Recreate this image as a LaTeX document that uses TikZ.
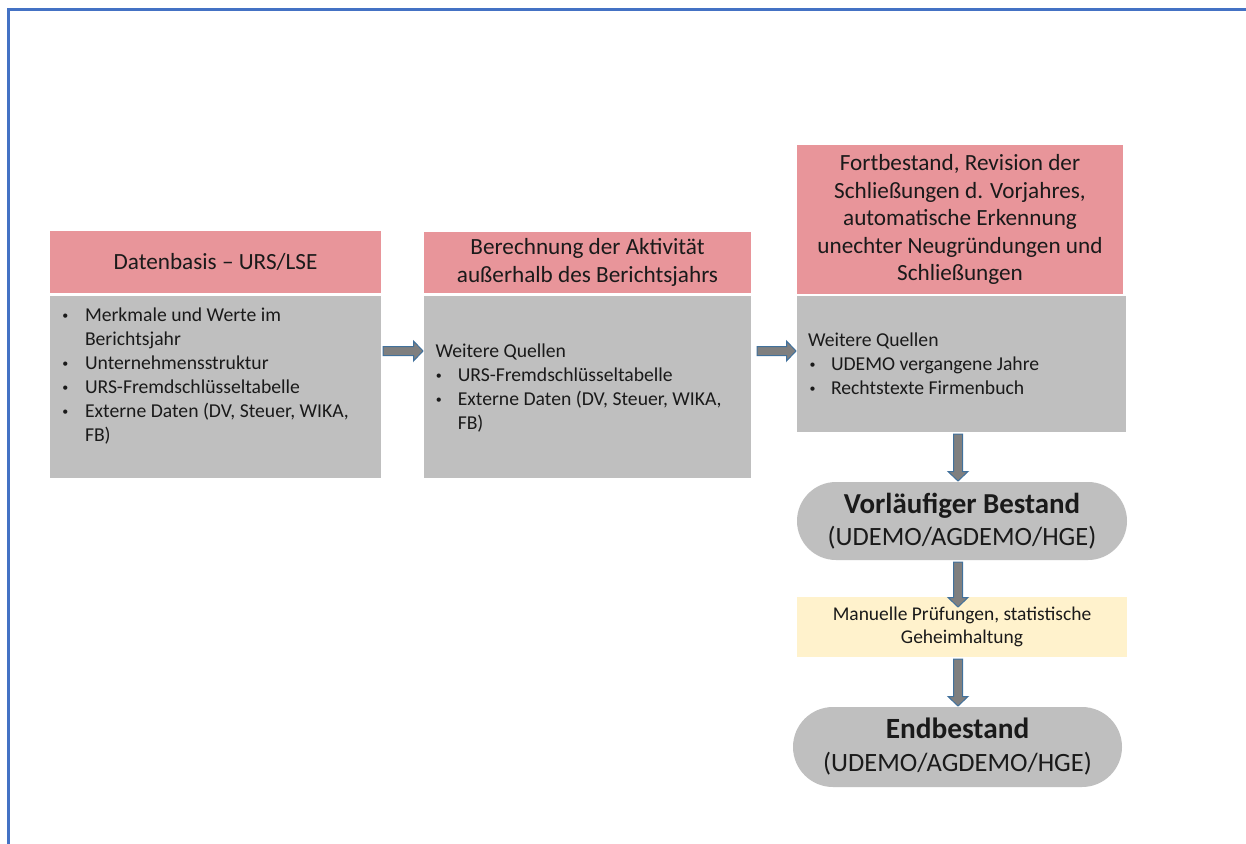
\documentclass[tikz,border=0pt]{standalone}
\usepackage{fontspec}
\setmainfont{Carlito}
\usetikzlibrary{calc}

\definecolor{hdrpink}{HTML}{E8959A}
\definecolor{bodygray}{HTML}{BFBFBF}
\definecolor{notebg}{HTML}{FFF2CC}
\definecolor{framebl}{HTML}{4472C4}
\definecolor{arrfill}{HTML}{7F7F7F}
\definecolor{arrline}{HTML}{41719C}
\definecolor{ink}{HTML}{1A1A1A}

% small bullet with given indent of the dot and remaining hanging width
\newcommand{\bul}[2]{\hspace*{#1}\makebox[0pt]{\raisebox{1.2pt}{\fontsize{9}{9}\selectfont\textbullet}}\hspace*{#2}}

% horizontal block arrow from #1 to #2 (pointing right)
\newcommand{\hblockarrow}[2]{%
  \filldraw[blockarrow] ($(#1)+(0,-4.5)$) -- ($(#2)+(-9.5,-4.5)$) -- ($(#2)+(-9.5,-10)$)
    -- (#2) -- ($(#2)+(-9.5,10)$) -- ($(#2)+(-9.5,4.5)$) -- ($(#1)+(0,4.5)$) -- cycle;}
% vertical block arrow from #1 to #2 (pointing down)
\newcommand{\vblockarrow}[2]{%
  \filldraw[blockarrow] ($(#1)+(-4.5,0)$) -- ($(#2)+(-4.5,-9.5)$) -- ($(#2)+(-10,-9.5)$)
    -- (#2) -- ($(#2)+(10,-9.5)$) -- ($(#2)+(4.5,-9.5)$) -- ($(#1)+(4.5,0)$) -- cycle;}

\begin{document}
\begin{tikzpicture}[x=0.75pt,y=-0.75pt,
  box/.style={rectangle, anchor=north west, inner sep=0pt, outer sep=0pt, draw=none},
  hdr/.style={box, fill=hdrpink, align=center, text=ink, font=\fontsize{17.4}{20.6}\selectfont},
  bodybox/.style={box, fill=bodygray},
  listtext/.style={anchor=base west, inner sep=0pt, outer sep=0pt, align=left, text=ink,
    font=\fontsize{14.75}{18}\selectfont},
  pill/.style={box, fill=bodygray, align=center, text=ink},
  note/.style={box, fill=notebg, align=center, text=ink, font=\fontsize{14.6}{17.5}\selectfont},
  blockarrow/.style={fill=arrfill, draw=arrline, line width=0.75pt, line join=miter}]

\useasboundingbox (0,0) rectangle (1246,843);
\fill[white] (0,0) rectangle (1246,843);

% outer frame (top and left edges)
\draw[framebl, line width=2.25pt, line join=miter] (8.5,846) -- (8.5,9.5) -- (1250,9.5);

% column 1 (list anchored at the baseline of its last line)
\node[hdr, minimum width=331*0.75pt, minimum height=62*0.75pt] (h1) at (50,231)
  {Datenbasis – URS/LSE};
\node[bodybox, minimum width=331*0.75pt, minimum height=182*0.75pt] (b1) at (50,296) {};
\node[listtext] (t1) at ($(b1.north west)+(10,145.5)$)
  {\bul{4pt}{14.75pt}Merkmale und Werte im\\
   \hspace*{18.75pt}Berichtsjahr\\
   \bul{4pt}{14.75pt}Unternehmensstruktur\\
   \bul{4pt}{14.75pt}URS-Fremdschlüsseltabelle\\
   \bul{4pt}{14.75pt}Externe Daten (DV, Steuer, WIKA,\\
   \hspace*{18.75pt}FB)};

% column 2
\node[hdr, minimum width=327*0.75pt, minimum height=61*0.75pt] (h2) at (424,232)
  {Berechnung der Aktivität\\außerhalb des Berichtsjahrs};
\node[bodybox, minimum width=327*0.75pt, minimum height=182*0.75pt] (b2) at (424,296) {};
\node[listtext] (t2) at ($(b2.north west)+(11.5,133)$)
  {Weitere Quellen\\
   \bul{2.5pt}{14.2pt}URS-Fremdschlüsseltabelle\\
   \bul{2.5pt}{14.2pt}Externe Daten (DV, Steuer, WIKA,\\
   \hspace*{16.7pt}FB)};

% column 3
\node[hdr, minimum width=326*0.75pt, minimum height=149*0.75pt] (h3) at (797,145)
  {Fortbestand, Revision der\\Schließungen d. Vorjahres,\\automatische Erkennung\\unechter Neugründungen und\\Schließungen};
\node[bodybox, minimum width=329*0.75pt, minimum height=136*0.75pt] (b3) at (797,296) {};
\node[listtext] (t3) at ($(b3.north west)+(11,98)$)
  {Weitere Quellen\\
   \bul{3.5pt}{13.75pt}UDEMO vergangene Jahre\\
   \bul{3.5pt}{13.75pt}Rechtstexte Firmenbuch};

% results
\node[pill, minimum width=330*0.75pt, minimum height=78*0.75pt, rounded corners=29.25pt,
  font=\fontsize{19.8}{24.5}\selectfont] (vor) at (797,482)
  {{\bfseries\fontsize{21.7}{24.5}\selectfont Vorläufiger Bestand}\\(UDEMO/AGDEMO/HGE)};
\node[note, minimum width=330*0.75pt, minimum height=60*0.75pt] (chk) at (797,597)
  {Manuelle Prüfungen, statistische\\Geheimhaltung};
\node[pill, minimum width=329*0.75pt, minimum height=80*0.75pt, rounded corners=30pt,
  font=\fontsize{19.8}{24.75}\selectfont] (endb) at (793,707)
  {{\bfseries\fontsize{22}{24.75}\selectfont Endbestand}\\(UDEMO/AGDEMO/HGE)};

% connectors
\coordinate (h1s) at ($(b1.north east)+(2,55)$);
\coordinate (h1e) at ($(b2.north west)+(-1,55)$);
\coordinate (h2s) at ($(b2.north east)+(6,55)$);
\coordinate (h2e) at ($(b3.north west)+(-1,55)$);
\coordinate (v1s) at ($(b3.south)+(-3.5,2)$);
\coordinate (v1e) at ($(vor.north)+(-4,-1)$);
\coordinate (v2s) at ($(vor.south)+(-4,2)$);
\coordinate (v2e) at ($(chk.north)+(-4,10)$);
\coordinate (v3s) at ($(chk.south)+(-4,2)$);
\coordinate (v3e) at ($(v3s |- endb.north)+(0,-1)$);

\hblockarrow{h1s}{h1e}
\hblockarrow{h2s}{h2e}
\vblockarrow{v1s}{v1e}
\vblockarrow{v2s}{v2e}
\vblockarrow{v3s}{v3e}

\end{tikzpicture}
\end{document}
